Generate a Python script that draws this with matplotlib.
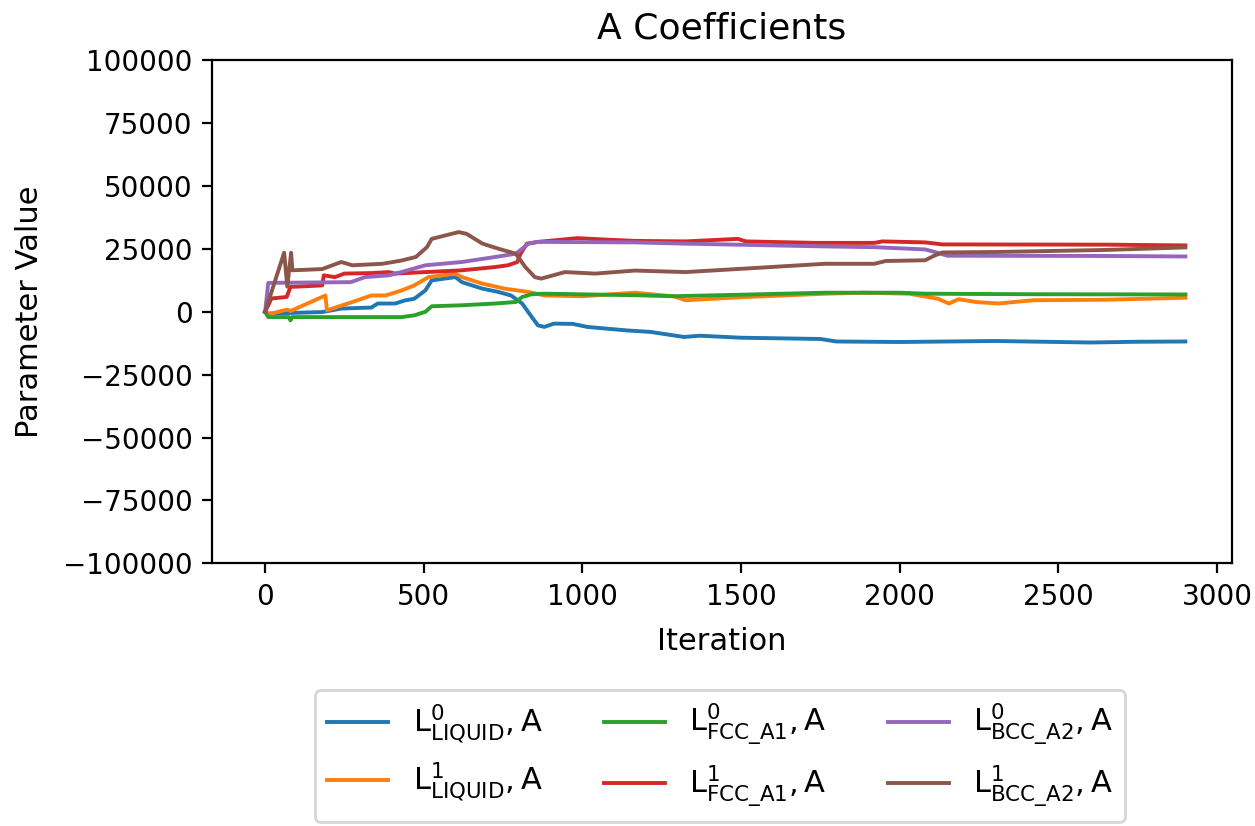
import matplotlib
matplotlib.use('Agg')
import matplotlib.pyplot as plt

# values (iteration, parameter value)
liq0_x = [0, 10, 180, 240, 335, 355, 410, 440, 470, 505, 525, 600, 620, 685, 735, 775, 810, 840, 860, 880,
          910, 970, 1015, 1140, 1215, 1320, 1370, 1500, 1750, 1800, 2000, 2300, 2600, 2750, 2900]
liq0_y = [0, -700, -100, 1300, 1700, 3300, 3300, 4500, 5200, 8500, 12500, 13800, 11800, 9200, 7900, 6500, 3300,
          -2000, -5400, -6000, -4700, -4800, -6000, -7400, -8000, -10000, -9500, -10300, -10800, -11800, -12000,
          -11600, -12200, -11900, -11800]

liq1_x = [0, 10, 70, 80, 190, 195, 275, 335, 380, 430, 470, 515, 600, 620, 685, 755, 830, 880, 1000, 1165,
          1290, 1325, 1500, 1765, 1890, 2030, 2120, 2155, 2185, 2240, 2310, 2420, 2650, 2900]
liq1_y = [0, -1000, 900, 300, 6500, 600, 3900, 6500, 6500, 8500, 10500, 13800, 15200, 13800, 11200, 9200, 7900,
          6500, 6200, 7600, 6100, 4600, 5800, 7200, 7600, 7200, 5200, 3300, 5000, 3900, 3300, 4600, 4800, 5600]

fcc0_x = [0, 10, 75, 80, 85, 430, 470, 505, 525, 620, 725, 790, 810, 840, 880, 1165, 1290, 1500, 1765, 2000,
          2080, 2400, 2900]
fcc0_y = [0, -2100, -2100, -3400, -2100, -2100, -1400, 0, 2200, 2600, 3300, 3900, 5900, 7000, 7200, 6600, 6200,
          6800, 7600, 7600, 7200, 7000, 6900]

fcc1_x = [0, 20, 68, 80, 180, 185, 220, 250, 335, 390, 410, 620, 725, 765, 795, 805, 825, 860, 985, 1060, 1165,
          1325, 1490, 1515, 1735, 1920, 1945, 2080, 2135, 2650, 2900]
fcc1_y = [0, 5300, 5900, 9900, 10500, 14500, 13800, 15200, 15400, 15800, 15200, 16500, 17800, 18500, 19800,
          23100, 27100, 27800, 29300, 28800, 28200, 28000, 29000, 28000, 27400, 27400, 28000, 27600, 26800,
          26700, 26400]

bcc0_x = [0, 10, 270, 315, 390, 435, 505, 620, 725, 790, 830, 860, 1165, 1325, 1765, 1920, 2080, 2110, 2150,
          2650, 2900]
bcc0_y = [0, 11500, 11800, 13800, 14500, 16000, 18500, 19800, 21800, 23100, 27100, 27800, 27600, 27100, 26000,
          25700, 24800, 23800, 22300, 22200, 22000]

bcc1_x = [0, 60, 70, 82, 86, 180, 240, 275, 370, 430, 475, 510, 525, 610, 635, 685, 735, 790, 820, 850, 870,
          945, 1040, 1165, 1325, 1500, 1765, 1920, 1955, 2080, 2110, 2135, 2310, 2650, 2900]
bcc1_y = [0, 23500, 10000, 23500, 16500, 17000, 19800, 18500, 19100, 20400, 21800, 25700, 29000, 31700, 31000,
          27100, 25100, 23100, 17800, 13800, 13200, 15800, 15200, 16400, 15800, 17100, 19100, 19100, 20200,
          20500, 22400, 23600, 23800, 24600, 25600]

labels = [r'$\mathrm{L}^{0}_{\mathrm{LIQUID}}, \mathrm{A}$',
          r'$\mathrm{L}^{1}_{\mathrm{LIQUID}}, \mathrm{A}$',
          r'$\mathrm{L}^{0}_{\mathrm{FCC\_A1}}, \mathrm{A}$',
          r'$\mathrm{L}^{1}_{\mathrm{FCC\_A1}}, \mathrm{A}$',
          r'$\mathrm{L}^{0}_{\mathrm{BCC\_A2}}, \mathrm{A}$',
          r'$\mathrm{L}^{1}_{\mathrm{BCC\_A2}}, \mathrm{A}$']

series = [(liq0_x, liq0_y), (liq1_x, liq1_y), (fcc0_x, fcc0_y),
          (fcc1_x, fcc1_y), (bcc0_x, bcc0_y), (bcc1_x, bcc1_y)]

fig = plt.figure(figsize=(6.275, 4.13), dpi=200)
ax = fig.add_axes([0.169, 0.318, 0.8127, 0.609])

for (xs, ys), lab in zip(series, labels):
    ax.plot(xs, ys, label=lab, lw=1.4)

ax.set_xlim(-167, 3047)
ax.set_ylim(-100000, 100000)
ax.set_yticks(range(-100000, 100001, 25000))
ax.set_xticks(range(0, 3001, 500))
ax.set_title('A Coefficients', fontsize=13, pad=8)
ax.set_xlabel('Iteration', fontsize=11, labelpad=6)
ax.set_ylabel('Parameter Value', fontsize=11, labelpad=7)

fig.legend(loc='upper center', bbox_to_anchor=(0.5737, 0.183), ncol=3, fontsize=11)

fig.savefig('out.png', dpi=200)
